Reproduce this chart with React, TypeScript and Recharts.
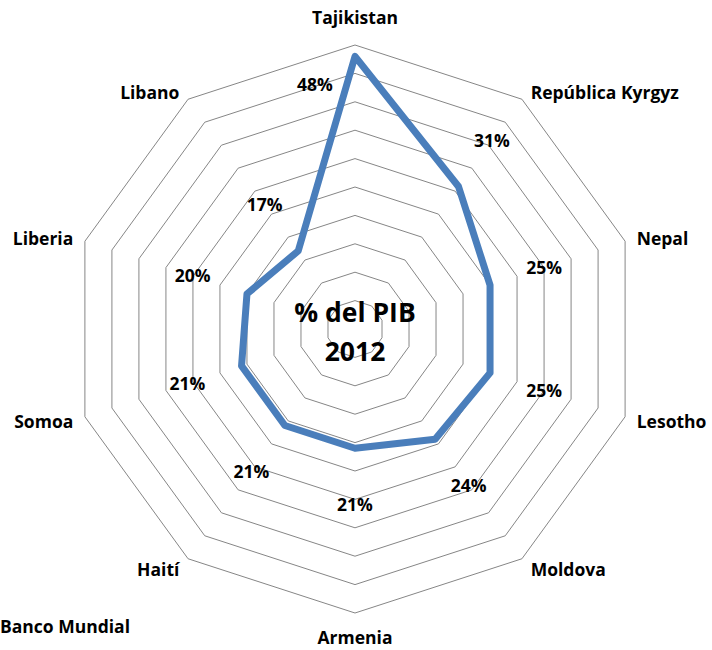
import React from "react";
import { PolarAngleAxis, PolarGrid, PolarRadiusAxis, Radar, RadarChart } from "recharts";

const COUNTRIES = [
  "Tajikistan",
  "República Kyrgyz",
  "Nepal",
  "Lesotho",
  "Moldova",
  "Armenia",
  "Haití",
  "Somoa",
  "Liberia",
  "Libano",
];
const REMITTANCES = [48, 31, 25, 25, 24, 21, 21, 21, 20, 17];
const RADIUS_TICKS = [0, 5, 10, 15, 20, 25, 30, 35, 40, 45, 50];

const CX = 355;
const CY = 329;
const FONT = "'Open Sans', 'Noto Sans', sans-serif";
const BLUE = "#4a7ebb";

const data = COUNTRIES.map((c, i) => ({ country: c, value: REMITTANCES[i] }));

function CountryTick(props: any) {
  const { x, y, textAnchor, payload } = props;
  let dx = 0;
  let dy = 0;
  if (textAnchor === "start") dx = 4;
  if (textAnchor === "end") dx = -4;
  if (textAnchor === "middle") dy = y < CY ? -19 : 17;
  else if (y > CY) dy = y > CY + 150 ? 5 : 3;
  return (
    <text
      x={x + dx}
      y={y + dy}
      dy="0.35em"
      textAnchor={textAnchor}
      fontFamily={FONT}
      fontWeight={700}
      fontSize={17.5}
      fill="#000"
    >
      {payload.value}
    </text>
  );
}

// value labels sit ~57px out from each point; the Tajikistan one is tucked inside
function ValueLabel(props: any) {
  const { cx, cy, index } = props;
  if (cx == null || cy == null) return null;
  let lx: number;
  let ly: number;
  if (index === 0) {
    lx = cx - 40;
    ly = cy + 29;
  } else {
    const ddx = cx - CX;
    const ddy = cy - CY;
    const len = Math.sqrt(ddx * ddx + ddy * ddy) || 1;
    lx = cx + (ddx / len) * 57;
    ly = cy + (ddy / len) * 57;
  }
  return (
    <text
      key={`lbl-${index}`}
      x={lx}
      y={ly}
      dy="0.35em"
      textAnchor="middle"
      fontFamily={FONT}
      fontWeight={700}
      fontSize={17.5}
      fill="#000"
    >
      {`${REMITTANCES[index]}%`}
    </text>
  );
}

export default function App() {
  return (
    <div
      style={{
        position: "absolute",
        left: 0,
        top: 0,
        width: 712,
        height: 650,
        overflow: "hidden",
        background: "#fff",
      }}
    >
      <RadarChart
        width={712}
        height={650}
        cx={CX}
        cy={CY}
        outerRadius={284}
        data={data}
        margin={{ top: 0, right: 0, bottom: 0, left: 0 }}
      >
        <PolarGrid gridType="polygon" radialLines={false} stroke="#868686" strokeWidth={1} />
        <PolarRadiusAxis
          domain={[0, 50]}
          ticks={RADIUS_TICKS as any}
          tickCount={11}
          axisLine={false}
          tick={false}
        />
        <PolarAngleAxis dataKey="country" tickLine={false} axisLine={false} tick={<CountryTick />} />
        <Radar
          dataKey="value"
          stroke={BLUE}
          strokeWidth={7}
          strokeLinejoin="round"
          fill="none"
          fillOpacity={0}
          dot={(p: any) => <ValueLabel key={`v-${p.index}`} {...p} />}
          isAnimationActive={false}
        />
      </RadarChart>
      <svg
        width={712}
        height={650}
        style={{ position: "absolute", left: 0, top: 0, pointerEvents: "none" }}
      >
        <text x={CX} y={313} dy="0.35em" textAnchor="middle" fontFamily={FONT} fontWeight={700} fontSize={26.5}>
          % del PIB
        </text>
        <text x={CX} y={352} dy="0.35em" textAnchor="middle" fontFamily={FONT} fontWeight={700} fontSize={26.5}>
          2012
        </text>
        <text x={130} y={627} dy="0.35em" textAnchor="end" fontFamily={FONT} fontWeight={700} fontSize={17.5}>
          Fuente: Banco Mundial
        </text>
      </svg>
    </div>
  );
}
